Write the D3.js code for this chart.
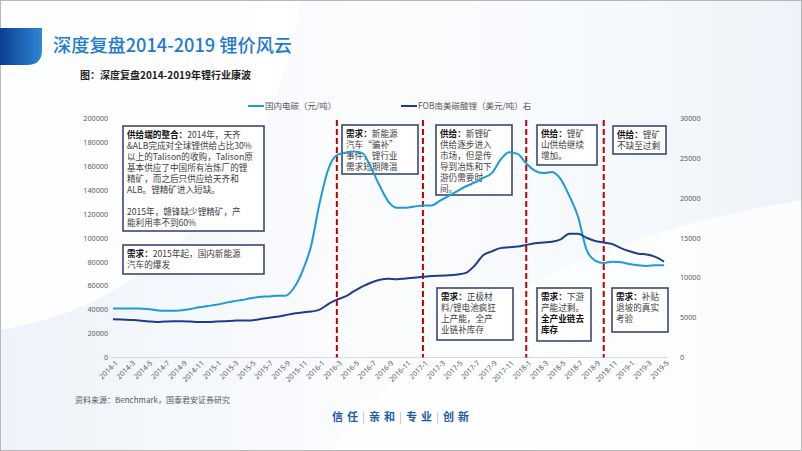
<!DOCTYPE html>
<html><head><meta charset="utf-8">
<script src="https://cdn.jsdelivr.net/npm/d3@7/dist/d3.min.js"></script>
<style>
html,body{margin:0;padding:0;background:#fff;}
svg{display:block;font-family:"Noto Sans CJK SC","Noto Sans",sans-serif;}
</style></head><body>
<svg id="chart" width="802" height="451"></svg>
<script>
// ---------- data ----------
const months = ["2014-1","2014-2","2014-3","2014-4","2014-5","2014-6","2014-7","2014-8","2014-9","2014-10","2014-11","2014-12",
"2015-1","2015-2","2015-3","2015-4","2015-5","2015-6","2015-7","2015-8","2015-9","2015-10","2015-11","2015-12",
"2016-1","2016-2","2016-3","2016-4","2016-5","2016-6","2016-7","2016-8","2016-9","2016-10","2016-11","2016-12",
"2017-1","2017-2","2017-3","2017-4","2017-5","2017-6","2017-7","2017-8","2017-9","2017-10","2017-11","2017-12",
"2018-1","2018-2","2018-3","2018-4","2018-5","2018-6","2018-7","2018-8","2018-9","2018-10","2018-11","2018-12",
"2019-1","2019-2","2019-3","2019-4","2019-5"];
const domesticCarbonate = [41000,41000,41000,41000,40500,39500,39000,39000,39500,40500,
42000,43000,44000,45500,47000,48000,49500,50500,51000,51500,
51500,58000,72000,93000,129000,157000,169000,171000,172000,170500,
158000,143000,130000,125000,125000,126000,127000,127000,131000,135000,
139000,143000,146000,150000,154000,165000,171500,170000,162000,156000,
154000,155000,149000,135000,118000,90000,81000,79000,80000,79500,
78000,77000,76500,77000,77000];
const fobCarbonate = [4800,4750,4700,4650,4550,4450,4500,4550,4550,4500,
4450,4450,4500,4550,4600,4650,4650,4800,4950,5100,
5300,5500,5650,5750,6000,6700,7250,7650,8300,8900,
9400,9750,9850,9800,9900,10000,10100,10200,10250,10300,
10400,10600,11500,12800,13300,13700,13800,13900,14100,14300,
14400,14500,14800,15500,15500,15000,14600,14400,14200,13700,
13300,13000,12900,12600,12000];
const seriesNames = ["国内电碳（元/吨）","FOB南美碳酸锂（美元/吨）右"];
const leftTicks = [0,20000,40000,60000,80000,100000,120000,140000,160000,180000,200000];
const rightTicks = [0,5000,10000,15000,20000,25000,30000];
const tickLabels = months.filter((m,i)=>i%2===0);
const dividers = ["2016-3","2017-1","2018-1","2018-10"];
const notes = [
 {bold:"供给端的整合：", lines:["供给端的整合：2014年，天齐","&ALB完成对全球锂供给占比30%","以上的Talison的收购，Talison原","基本供应了中国所有冶炼厂的锂","精矿，而之后只供应给天齐和","ALB。锂精矿进入短缺。","","2015年，赣锋缺少锂精矿，产","能利用率不到60%"]},
 {bold:"需求：", lines:["需求：2015年起，国内新能源","汽车的爆发"]},
 {bold:"需求：", lines:["需求：新能源","汽车“骗补”","事件，锂行业","需求短期降温"]},
 {bold:"供给：", lines:["供给：新锂矿","供给逐步进入","市场，但是传","导到冶炼和下","游仍需要时","间。"]},
 {bold:"供给：", lines:["供给：锂矿","山供给继续","增加。"]},
 {bold:"供给：", lines:["供给：锂矿","不缺至过剩"]},
 {bold:"需求：", lines:["需求：正极材","料/锂电池疯狂","上产能，全产","业链补库存"]},
 {bold:"需求：", lines:["需求：下游","产能过剩。","全产业链去","库存"], boldLines:[2,3]},
 {bold:"需求：", lines:["需求：补贴","退坡的真实","考验"]}
];
// ---------- layout ----------
const boxes = [
 {x:123,y:126,w:141,h:105},
 {x:123,y:245,w:141,h:29},
 {x:342,y:125,w:76,h:49},
 {x:436,y:125,w:76,h:70},
 {x:537,y:125,w:60,h:40},
 {x:613,y:126,w:53,h:28},
 {x:437,y:288,w:76,h:52},
 {x:537,y:288,w:54,h:53},
 {x:612,y:288,w:56,h:44}
];
const svg = d3.select("#chart");
const defs = svg.append("defs");
const bg = defs.append("linearGradient").attr("id","bg").attr("x1","0").attr("y1","0").attr("x2","1").attr("y2","0");
bg.append("stop").attr("offset","0").attr("stop-color","#eef3f9");
bg.append("stop").attr("offset","0.45").attr("stop-color","#fbfcfe");
bg.append("stop").attr("offset","0.75").attr("stop-color","#f6f9fc");
bg.append("stop").attr("offset","1").attr("stop-color","#eef3f9");
svg.append("rect").attr("width",802).attr("height",451).attr("fill","url(#bg)");
svg.append("path").attr("d","M0,0 L300,0 C280,150 180,300 0,330 Z").attr("fill","#ffffff").attr("opacity",0.85);
svg.append("path").attr("d","M330,451 C420,330 560,240 802,200 L802,451 Z").attr("fill","#ffffff").attr("opacity",0.7);
svg.append("rect").attr("x",0.5).attr("y",0.5).attr("width",801).attr("height",450).attr("fill","none").attr("stroke","#b8b8b8");

// header tab
const tab = defs.append("linearGradient").attr("id","tab").attr("x1","0").attr("x2","1");
tab.append("stop").attr("offset","0").attr("stop-color","#0b3f91");
tab.append("stop").attr("offset","1").attr("stop-color","#2e86d6");
svg.append("path").attr("d","M0,28 L42,28 L42,50 Q42,65 27,65 L0,65 Z").attr("fill","url(#tab)");
svg.append("text").attr("x",53).attr("y",52).attr("font-size",18.2).attr("font-weight",500).attr("fill","#1f7ad0")
  .text("深度复盘2014-2019 锂价风云");
svg.append("text").attr("x",80).attr("y",79).attr("font-size",10).attr("font-weight",700).attr("fill","#222")
  .text("图：深度复盘2014-2019年锂行业康波");

// scales
const x = d3.scalePoint().domain(months).range([113,664]);
const yL = d3.scaleLinear().domain([0,200000]).range([357.5,118]);
const yR = d3.scaleLinear().domain([0,30000]).range([357.5,118]);

// baseline
svg.append("line").attr("x1",110).attr("x2",668).attr("y1",yL(0)).attr("y2",yL(0)).attr("stroke","#d9d9d9");

// axes
const axL = svg.append("g").attr("transform","translate(108,0)")
  .call(d3.axisLeft(yL).tickValues(leftTicks).tickSize(0).tickPadding(0).tickFormat(d3.format("d")));
const axR = svg.append("g").attr("transform","translate(680,0)")
  .call(d3.axisRight(yR).tickValues(rightTicks).tickSize(0).tickPadding(0).tickFormat(d3.format("d")));
[axL,axR].forEach(a=>{a.select(".domain").remove();a.selectAll("text").attr("fill","#595959").attr("font-size",7.2).attr("font-family","'Noto Sans',sans-serif");});
const axB = svg.append("g").attr("transform",`translate(0,${yL(0)})`)
  .call(d3.axisBottom(x).tickValues(tickLabels).tickSize(0).tickPadding(0));
axB.select(".domain").remove();
axB.selectAll("text").attr("fill","#595959").attr("font-size",7.2).attr("font-family","'Noto Sans',sans-serif")
  .attr("text-anchor","end").attr("dy",0).attr("transform","translate(5,6) rotate(-45)");

// boxes
const gB = svg.append("g");
notes.forEach((n,i)=>{
  const b = boxes[i];
  gB.append("rect").attr("x",b.x).attr("y",b.y).attr("width",b.w).attr("height",b.h)
    .attr("fill","#fff").attr("stroke","#2f3d6e").attr("stroke-width",1.5);
  n.lines.forEach((ln,j)=>{
    if(!ln) return;
    const yy = b.y + 11.5 + j*11;
    const t = gB.append("text").attr("x",b.x+4).attr("y",yy).attr("font-size",8.6).attr("fill","#404040");
    if(j===0 && ln.startsWith(n.bold)){
      t.append("tspan").attr("font-weight",700).attr("fill","#111").text(n.bold);
      t.append("tspan").text(ln.slice(n.bold.length));
    } else {
      const bl = n.boldLines && n.boldLines.includes(j);
      t.attr("font-weight",bl?700:400).attr("fill",bl?"#111":"#404040").text(ln);
    }
  });
});

// dividers
svg.append("g").selectAll("line").data(dividers).join("line")
  .attr("x1",d=>x(d)).attr("x2",d=>x(d)).attr("y1",120).attr("y2",yL(0))
  .attr("stroke","#c00000").attr("stroke-width",2).attr("stroke-dasharray","6,3");

// lines
const lineL = d3.line().x((d,i)=>x(months[i])).y(d=>yL(d)).curve(d3.curveMonotoneX);
const lineR = d3.line().x((d,i)=>x(months[i])).y(d=>yR(d)).curve(d3.curveMonotoneX);
svg.append("path").datum(domesticCarbonate).attr("d",lineL).attr("fill","none").attr("stroke","#1c9bd8").attr("stroke-width",2);
svg.append("path").datum(fobCarbonate).attr("d",lineR).attr("fill","none").attr("stroke","#1f3d8c").attr("stroke-width",2);

// legend
const leg = [{x:248,c:"#1c9bd8",t:seriesNames[0]},{x:401,c:"#1f3d8c",t:seriesNames[1]}];
leg.forEach(l=>{
  svg.append("line").attr("x1",l.x).attr("x2",l.x+16).attr("y1",106).attr("y2",106).attr("stroke",l.c).attr("stroke-width",2);
  svg.append("text").attr("x",l.x+17).attr("y",109).attr("font-size",8.5).attr("fill","#595959").text(l.t);
});

// footer
svg.append("text").attr("x",75).attr("y",403).attr("font-size",8).attr("fill","#595959").text("资料来源：Benchmark，国泰君安证券研究");
const slogan = ["信任","亲和","专业","创新"];
const sg = svg.append("text").attr("x",332).attr("y",421).attr("font-size",11).attr("font-weight",700).attr("fill","#1f5aa6").attr("letter-spacing",4);
slogan.forEach((s,i)=>{
  if(i>0) sg.append("tspan").attr("fill","#9bb3d6").attr("font-weight",400).text("|");
  sg.append("tspan").text(s);
});
</script></body></html>
